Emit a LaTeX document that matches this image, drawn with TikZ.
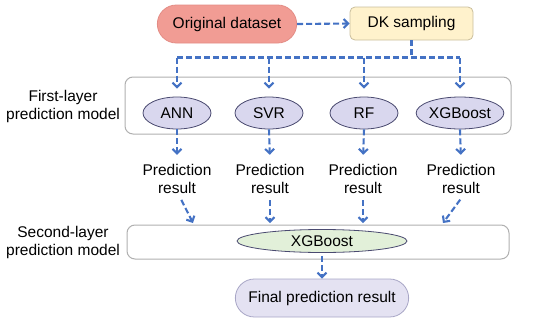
\documentclass[tikz,border=0pt]{standalone}
\usepackage{fontspec}
\setmainfont{Liberation Sans}
\usetikzlibrary{shapes.geometric,shapes.misc,arrows.meta}
\definecolor{arrblue}{HTML}{4472C4}
\definecolor{origfill}{HTML}{F19C94}
\definecolor{origdraw}{HTML}{E38C85}
\definecolor{dkfill}{HTML}{FFF2CC}
\definecolor{dkdraw}{HTML}{C9BE9C}
\definecolor{ellfill}{HTML}{D9D7EE}
\definecolor{elldraw}{HTML}{4A4A70}
\definecolor{greenfill}{HTML}{E2F0D9}
\definecolor{finfill}{HTML}{E4E2F2}
\definecolor{findraw}{HTML}{A8A6C6}
\definecolor{boxdraw}{HTML}{B0B0B0}
\tikzset{
  txt/.style={font=\fontsize{15.5}{18}\selectfont, text=black},
  arr/.style={draw=arrblue, line width=2.1pt, dash pattern=on 6pt off 3pt,
    -{Straight Barb[length=4.5pt,width=9pt,line width=2.1pt]}},
  dline/.style={draw=arrblue, line width=2.1pt, dash pattern=on 6pt off 3pt},
  model/.style={txt, ellipse, draw=elldraw, fill=ellfill, line width=0.8pt,
    minimum width=68pt, minimum height=32pt, inner sep=0pt},
  layerbox/.style={draw=boxdraw, line width=1pt, rounded corners=8pt, fill=white},
}
\begin{document}
\begin{tikzpicture}[x=1pt,y=-1pt]
\useasboundingbox (0,0) rectangle (550,322);
% layer boxes
\draw[layerbox] (125,77) rectangle (511,134);
\draw[layerbox] (127,225) rectangle (509,259);
% top nodes
\node[txt, rounded rectangle, fill=origfill, draw=origdraw, line width=0.8pt,
  minimum width=146pt, minimum height=38pt] (orig) at (227,24) {Original dataset};
\node[txt, rectangle, rounded corners=5pt, fill=dkfill, draw=dkdraw, line width=0.8pt,
  minimum width=123pt, minimum height=33pt] (dk) at (411.5,23.5) {DK sampling};
% first-layer models
\node[model] (ann) at (177,113) {ANN};
\node[model] (svr) at (269,113) {SVR};
\node[model] (rf) at (364,113) {RF};
\node[model, minimum width=74pt] (xgb) at (460,113) {XGBoost};
% prediction results
\node[txt, align=center] (p1) at (177,179) {Prediction\\result};
\node[txt, align=center] (p2) at (270,179) {Prediction\\result};
\node[txt, align=center] (p3) at (363,179) {Prediction\\result};
\node[txt, align=center] (p4) at (461,179) {Prediction\\result};
% second layer
\node[txt, ellipse, draw=elldraw, fill=greenfill, line width=0.8pt,
  minimum width=170pt, minimum height=23pt, inner sep=0pt] (xg2) at (322,241) {XGBoost};
\node[txt, rounded rectangle, fill=finfill, draw=findraw, line width=0.8pt,
  minimum width=180pt, minimum height=38pt] (fin) at (322,298) {Final prediction result};
% side labels
\node[txt, align=center] (lab1) at (63,106) {First-layer\\prediction model};
\node[txt, align=center] (lab2) at (63,242) {Second-layer\\prediction model};
% coordinates
\coordinate (j) at (411.5,57.5);
\coordinate (t1) at (193,223);
\coordinate (t2) at (270,223);
\coordinate (t3) at (363,223);
\coordinate (t4) at (443,223);
% connectors
\draw[arr] (orig.east) -- (dk.west);
\draw[dline] (dk.south) -- (j);
\draw[dline] (ann.north |- j) -- (xgb.north |- j);
\draw[arr, shorten >=8pt] (ann.north |- j) -- (ann.north);
\draw[arr, shorten >=8pt] (svr.north |- j) -- (svr.north);
\draw[arr, shorten >=8pt] (rf.north |- j) -- (rf.north);
\draw[arr, shorten >=8pt] (xgb.north |- j) -- (xgb.north);
\draw[arr, shorten >=6pt] (ann.south) -- (p1.north);
\draw[arr, shorten >=6pt] (svr.south) -- (p2.north);
\draw[arr, shorten >=6pt] (rf.south) -- (p3.north);
\draw[arr, shorten >=6pt] (xgb.south) -- (p4.north);
\draw[arr, shorten <=3pt] ([xshift=3pt]p1.south) -- (t1);
\draw[arr, shorten <=3pt] (p2.south) -- (t2);
\draw[arr, shorten <=3pt] (p3.south) -- (t3);
\draw[arr, shorten <=3pt] ([xshift=1pt]p4.south) -- (t4);
\draw[arr, shorten <=3pt] (xg2.south) -- (fin.north);
\end{tikzpicture}
\end{document}
